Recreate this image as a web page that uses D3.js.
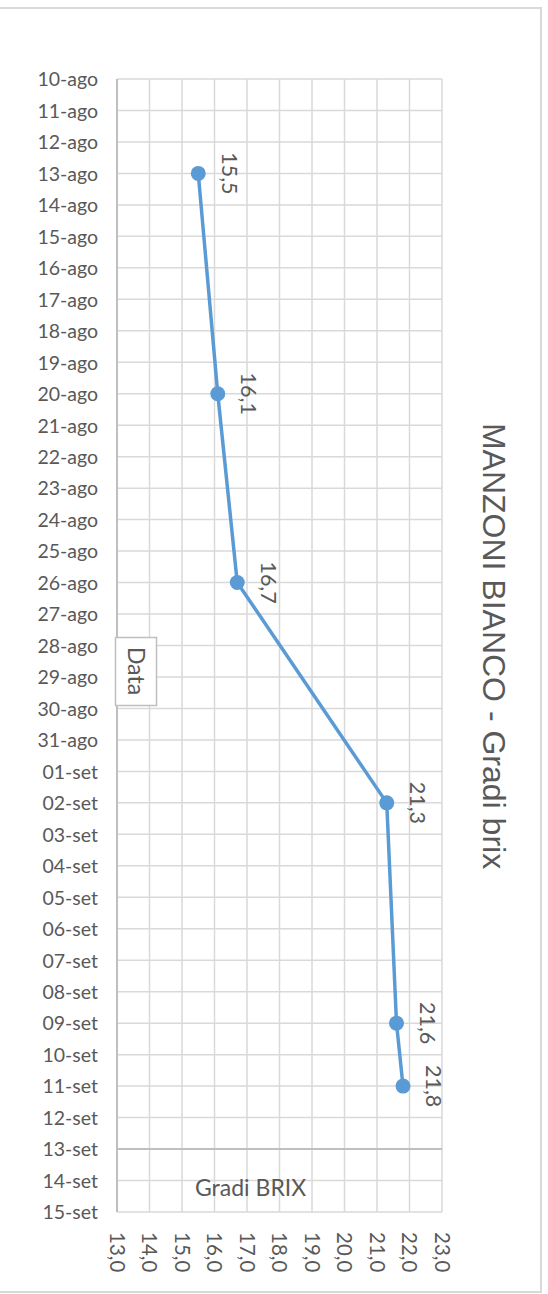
<!DOCTYPE html>
<html>
<head>
<meta charset="utf-8">
<script src="https://cdn.jsdelivr.net/npm/d3@7"></script>
<style>
  html, body { margin: 0; padding: 0; background: #fff; }
  svg { display: block; }
</style>
</head>
<body>
<script>
// Sampling dates (category axis, top to bottom)
const dates = [
  "10-ago","11-ago","12-ago","13-ago","14-ago","15-ago","16-ago","17-ago","18-ago","19-ago",
  "20-ago","21-ago","22-ago","23-ago","24-ago","25-ago","26-ago","27-ago","28-ago","29-ago",
  "30-ago","31-ago","01-set","02-set","03-set","04-set","05-set","06-set","07-set","08-set",
  "09-set","10-set","11-set","12-set","13-set","14-set","15-set"
];
// Measured Brix values
const sampleDates = ["13-ago","20-ago","26-ago","02-set","09-set","11-set"];
const brix = [15.5, 16.1, 16.7, 21.3, 21.6, 21.8];
// Value axis ticks
const brixTicks = [13,14,15,16,17,18,19,20,21,22,23];

const W = 548, H = 1294;
const textColor = "#595959";
const lineColor = "#5B9BD5";
const bodyFont = "Lato, 'Open Sans', sans-serif";
const fmt = v => d3.format(".1f")(v).replace(".", ",");

const svg = d3.select("body").append("svg").attr("width", W).attr("height", H);

// Chart frame
svg.append("rect")
  .attr("x", -2).attr("y", 8).attr("width", 543).attr("height", 1284)
  .attr("fill", "#fff").attr("stroke", "#d9d9d9").attr("stroke-width", 2);

const plot = { left: 117, right: 442, top: 79, bottom: 1212 };

const x = d3.scaleLinear().domain([13, 23]).range([plot.left, plot.right]);
const y = d3.scalePoint().domain(dates).range([plot.top, plot.bottom]);

// Vertical gridlines (value axis)
svg.append("g")
  .selectAll("line").data(brixTicks).join("line")
  .attr("x1", d => x(d)).attr("x2", d => x(d))
  .attr("y1", plot.top).attr("y2", plot.bottom)
  .attr("stroke", "#d9d9d9").attr("stroke-width", 1.5);

// Horizontal gridlines (one per date)
svg.append("g")
  .selectAll("line").data(dates).join("line")
  .attr("x1", plot.left).attr("x2", plot.right)
  .attr("y1", d => y(d)).attr("y2", d => y(d))
  .attr("stroke", d => d === "13-set" ? "#bfbfbf" : "#d9d9d9")
  .attr("stroke-width", d => d === "13-set" ? 2 : 1.5);

// Category axis line
svg.append("line")
  .attr("x1", plot.left).attr("x2", plot.left)
  .attr("y1", plot.top).attr("y2", plot.bottom)
  .attr("stroke", "#bfbfbf").attr("stroke-width", 2);

// Date labels
const yAxis = d3.axisLeft(y).tickSize(0).tickPadding(19);
const gy = svg.append("g").attr("transform", `translate(${plot.left},0)`).call(yAxis);
gy.select(".domain").remove();
gy.selectAll("text")
  .attr("fill", textColor)
  .style("font-family", bodyFont)
  .style("font-size", "19.5px")
  .attr("dy", "0.35em");

// Value labels, rotated
svg.append("g")
  .selectAll("text").data(brixTicks).join("text")
  .attr("transform", d => `translate(${x(d)},${plot.bottom + 20}) rotate(90)`)
  .attr("dy", "0.35em")
  .attr("text-anchor", "start")
  .attr("fill", textColor)
  .style("font-family", bodyFont)
  .style("font-size", "20.5px")
  .text(d => fmt(d));

// Series line and markers
const pts = sampleDates.map((d, i) => ({ date: d, v: brix[i] }));
svg.append("path")
  .datum(pts)
  .attr("fill", "none")
  .attr("stroke", lineColor)
  .attr("stroke-width", 3.5)
  .attr("stroke-linejoin", "round")
  .attr("d", d3.line().x(d => x(d.v)).y(d => y(d.date)));

svg.append("g")
  .selectAll("circle").data(pts).join("circle")
  .attr("cx", d => x(d.v)).attr("cy", d => y(d.date))
  .attr("r", 7.5).attr("fill", lineColor);

// Data labels, rotated
svg.append("g")
  .selectAll("text").data(pts).join("text")
  .attr("transform", d => `translate(${x(d.v) + 31},${y(d.date)}) rotate(90)`)
  .attr("text-anchor", "middle")
  .attr("dy", "0.35em")
  .attr("fill", textColor)
  .style("font-family", bodyFont)
  .style("font-size", "21.5px")
  .text(d => fmt(d.v));

// Category axis title box
svg.append("rect")
  .attr("x", 115.5).attr("y", 637.5).attr("width", 41).attr("height", 68)
  .attr("fill", "#fff").attr("stroke", "#bfbfbf").attr("stroke-width", 1.5);
svg.append("text")
  .attr("transform", "translate(136,671) rotate(90)")
  .attr("text-anchor", "middle").attr("dy", "0.35em")
  .attr("fill", textColor)
  .style("font-family", bodyFont)
  .style("font-size", "23px")
  .text("Data");

// Value axis title
svg.append("text")
  .attr("x", 195).attr("y", 1196)
  .attr("fill", textColor)
  .style("font-family", bodyFont)
  .style("font-size", "23px")
  .text("Gradi BRIX");

// Chart title
svg.append("text")
  .attr("transform", "translate(494,646) rotate(90)")
  .attr("text-anchor", "middle").attr("dy", "0.35em")
  .attr("fill", textColor)
  .style("font-family", "'Liberation Sans', Arial, sans-serif")
  .style("font-size", "32px")
  .text("MANZONI BIANCO - Gradi brix");
</script>
</body>
</html>
